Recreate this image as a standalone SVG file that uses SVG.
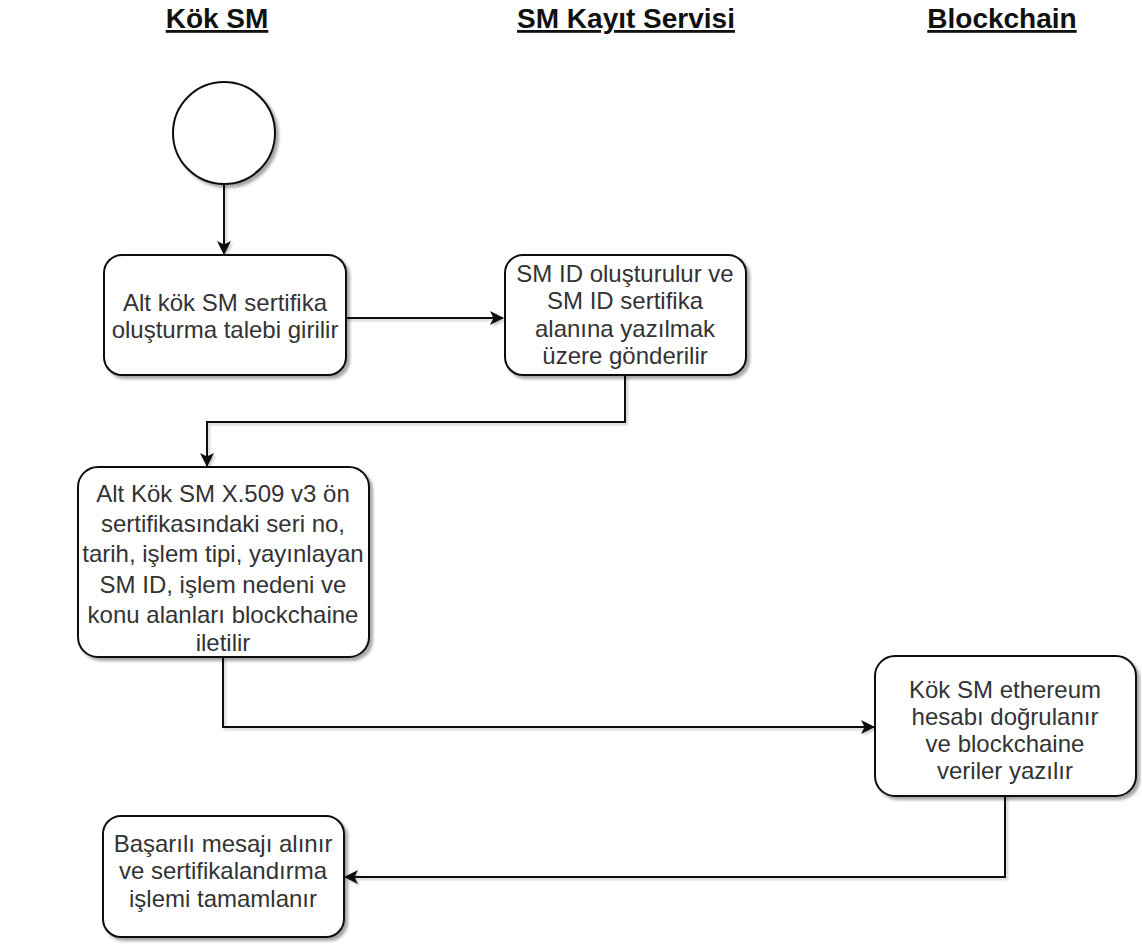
<svg xmlns="http://www.w3.org/2000/svg" width="1142" height="945" viewBox="0 0 1142 945">
  <style>
    .lane { font-family: "Liberation Sans", Arial, sans-serif; font-size: 28px; font-weight: bold; fill: #111; text-decoration: underline; text-anchor: middle; }
    .node rect, .node circle { fill: #fff; stroke: #111; stroke-width: 2; filter: url(#shadow); }
    .node text { font-family: "Liberation Sans", Arial, sans-serif; font-size: 24px; fill: #333; text-anchor: middle; }
    .edge { fill: none; stroke: #111; stroke-width: 2; marker-end: url(#arrow); filter: url(#lineShadow); }
  </style>
  <defs>
    <filter id="shadow" x="-10%" y="-10%" width="130%" height="130%">
      <feDropShadow dx="3" dy="3" stdDeviation="1.5" flood-color="#000" flood-opacity="0.35"/>
    </filter>
    <!-- user-space region so straight (zero-width) lines still get a shadow -->
    <filter id="lineShadow" filterUnits="userSpaceOnUse" x="0" y="0" width="1142" height="945">
      <feDropShadow dx="2" dy="2" stdDeviation="1" flood-color="#000" flood-opacity="0.2"/>
    </filter>
    <marker id="arrow" viewBox="0 0 14 14" refX="13" refY="7" markerWidth="14" markerHeight="14" markerUnits="userSpaceOnUse" orient="auto">
      <path d="M0,0 L14,7 L0,14 L3.5,7 Z" fill="#111"/>
    </marker>
  </defs>

  <!-- swimlane titles -->
  <g id="lanes">
    <text class="lane" x="217" y="28">Kök SM</text>
    <text class="lane" x="626" y="28">SM Kayıt Servisi</text>
    <text class="lane" x="1002" y="28">Blockchain</text>
  </g>

  <!-- connectors -->
  <g id="connectors">
    <path class="edge" d="M224,184 L224,254"/>
    <path class="edge" d="M346,318 L503,318"/>
    <path class="edge" d="M625,375 L625,422 L207,422 L207,466"/>
    <path class="edge" d="M223,657 L223,727 L874,727"/>
    <path class="edge" d="M1005,796 L1005,877 L345,877"/>
  </g>

  <g id="start" class="node">
    <circle cx="224" cy="133" r="51"/>
  </g>

  <g id="n1" class="node">
    <rect x="104" y="255" width="242" height="120" rx="18"/>
    <text x="225" y="311">Alt kök SM sertifika</text>
    <text x="225" y="338">oluşturma talebi girilir</text>
  </g>

  <g id="n2" class="node">
    <rect x="505" y="255" width="241" height="120" rx="18"/>
    <text x="625" y="282">SM ID oluşturulur ve</text>
    <text x="625" y="309">SM ID sertifika</text>
    <text x="625" y="337">alanına yazılmak</text>
    <text x="625" y="364">üzere gönderilir</text>
  </g>

  <g id="n3" class="node">
    <rect x="78" y="467" width="291" height="190" rx="20"/>
    <text x="223" y="502">Alt Kök SM X.509 v3 ön</text>
    <text x="223" y="532">sertifikasındaki seri no,</text>
    <text x="223" y="562">tarih, işlem tipi, yayınlayan</text>
    <text x="223" y="593">SM ID, işlem nedeni ve</text>
    <text x="223" y="623">konu alanları blockchaine</text>
    <text x="223" y="651">iletilir</text>
  </g>

  <g id="n4" class="node">
    <rect x="875" y="656" width="261" height="140" rx="20"/>
    <text x="1005" y="698">Kök SM ethereum</text>
    <text x="1005" y="725">hesabı doğrulanır</text>
    <text x="1005" y="752">ve blockchaine</text>
    <text x="1005" y="779">veriler yazılır</text>
  </g>

  <g id="n5" class="node">
    <rect x="103" y="816" width="241" height="121" rx="18"/>
    <text x="223" y="852">Başarılı mesajı alınır</text>
    <text x="223" y="879">ve sertifikalandırma</text>
    <text x="223" y="907">işlemi tamamlanır</text>
  </g>
</svg>
